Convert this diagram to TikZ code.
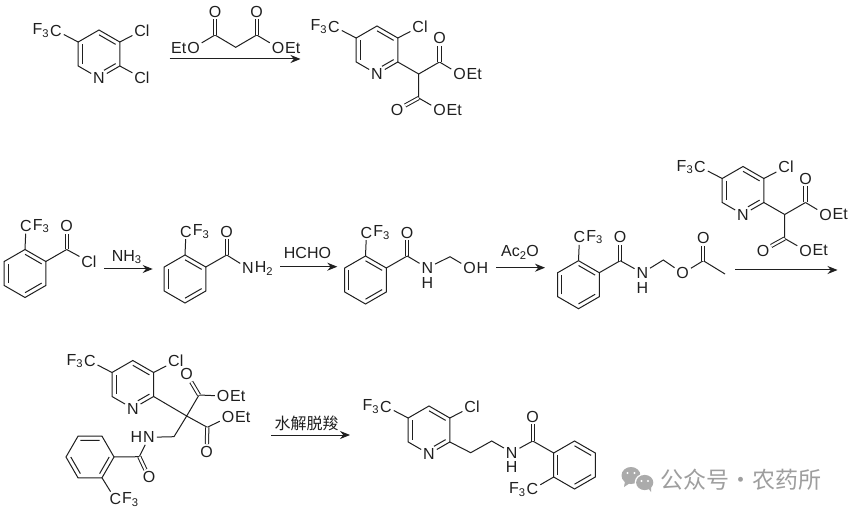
\documentclass[tikz,border=0pt]{standalone}
\usepackage{fontspec}
\setmainfont{Liberation Sans}
\newfontfamily\cjk{Noto Sans CJK SC}
\usetikzlibrary{arrows.meta,calc}
\tikzset{
atom/.style={inner sep=1.5pt,font=\fontsize{16}{18}\selectfont},
subr/.style={atom,anchor=west,xshift=-3pt},
subl/.style={atom,anchor=east,xshift=3pt},
dbl/.style={double,double distance=2.2pt},
rxn/.style={-{Stealth[length=10pt,width=8pt]}},
benzring/.pic={
\coordinate (-c) at (0,0);
\coordinate (-t) at (0,-24);
\coordinate (-ur) at (20.8,-12);
\coordinate (-lr) at (20.8,12);
\coordinate (-b) at (0,24);
\coordinate (-ll) at (-20.8,12);
\coordinate (-ul) at (-20.8,-12);
\draw (-t) -- (-ur) -- (-lr) -- (-b) -- (-ll) -- (-ul) -- cycle;
\draw ($(-c)!.8!(-t)$) -- ($(-c)!.8!(-ur)$);
\draw ($(-c)!.8!(-lr)$) -- ($(-c)!.8!(-b)$);
\draw ($(-c)!.8!(-ll)$) -- ($(-c)!.8!(-ul)$);
},
arylco/.pic={
\pic (-r) at (0,0) {benzring};
\coordinate (-co) at (41.7,-24);
\node[atom] (-o) at (41.7,-47.5) {O};
\node[atom] (-cc) at (1,-47.5) {C};
\node[subr] (-f) at (-cc.east) {F\textsubscript{3}};
\draw (-r-t) -- (-cc);
\draw (-r-ur) -- (-co);
\draw[dbl] (-co) -- (-o);
},
pyridine/.pic={
\coordinate (-c) at (0,0);
\coordinate (-c5) at (-20.8,-12);
\coordinate (-c4) at (0,-24);
\coordinate (-c3) at (20.8,-12);
\coordinate (-c2) at (20.8,12);
\coordinate (-c6) at (-20.8,12);
\coordinate (-q) at (6.2,20.4);
\node[atom] (-n) at (0,24) {N};
\node[atom] (-cc) at (-43,-23.5) {C};
\node[subl] (-f) at (-cc.west) {F\textsubscript{3}};
\node[atom] (-cl) at (43,-23.5) {Cl};
\draw (-c5) -- (-c4) -- (-c3) -- (-c2) -- (-n) -- (-c6) -- (-c5);
\draw (-c5) -- (-cc);
\draw (-c3) -- (-cl);
\draw ($(-c)!.8!(-c4)$) -- ($(-c)!.8!(-c3)$);
\draw ($(-c)!.8!(-c2)$) -- ($(-c)!.8!(-q)$);
\draw ($(-c)!.8!(-c5)$) -- ($(-c)!.8!(-c6)$);
},
malonyl/.pic={
\coordinate (-ch) at (41.7,24);
\coordinate (-cu) at (62.5,12);
\coordinate (-cd) at (41.7,48);
\node[atom] (-ou) at (62.5,-12) {O};
\node[atom] (-eu) at (82.5,24) {O};
\node[subr] (-tu) at (-eu.east) {Et};
\node[atom] (-od) at (20,60) {O};
\node[atom] (-ed) at (62.5,60) {O};
\node[subr] (-td) at (-ed.east) {Et};
\draw (-c2) -- (-ch);
\draw (-ch) -- (-cu);
\draw (-cu) -- (-eu);
\draw (-ch) -- (-cd) -- (-ed);
\draw[dbl] (-cu) -- (-ou);
\draw[dbl] (-cd) -- (-od);
}
}
\begin{document}
\begin{tikzpicture}[x=1pt,y=-1pt,line width=1pt,color=black!88]
\fill[white] (0,0) rectangle (852,513);
\pic (pa) at (99,54) {pyridine};
\node[atom] (clb) at (142,78) {Cl};
\draw (pa-c2) -- (clb);
\coordinate (ca) at (215,35);
\coordinate (cm) at (235.7,47.3);
\coordinate (cb) at (256.7,35);
\node[atom] (oa) at (215,11.7) {O};
\node[atom] (ob) at (256.7,11.7) {O};
\node[atom] (ec) at (193.5,47.7) {O};
\node[subl] (tc) at (ec.west) {Et};
\node[atom] (ed) at (278,47.7) {O};
\node[subr] (td) at (ed.east) {Et};
\draw (ec) -- (ca) -- (cm) -- (cb) -- (ed);
\draw[dbl] (ca) -- (oa);
\draw[dbl] (cb) -- (ob);
\coordinate (ara) at (169.5,59);
\coordinate (arb) at (300.5,59);
\draw[rxn] (ara) -- (arb);
\pic (pb) at (377,50) {pyridine};
\pic (pb) at (377,50) {malonyl};
\pic (xa) at (25,273.5) {arylco};
\node[atom] (cla) at (89,261.7) {Cl};
\draw (xa-co) -- (cla);
\coordinate (arc) at (104,269);
\coordinate (ard) at (152.7,269);
\draw[rxn] (arc) -- (ard);
\node[atom] (nha) at (126.7,257) {NH\textsubscript{3}};
\pic (xb) at (185,279) {arylco};
\node[atom] (nb) at (248,268.3) {N};
\node[subr] (hb) at (nb.east) {H\textsubscript{2}};
\draw (xb-co) -- (nb);
\coordinate (are) at (280,266.7);
\coordinate (arf) at (337.3,266.7);
\draw[rxn] (are) -- (arf);
\node[atom] (hcho) at (307.5,253.3) {HCHO};
\pic (xc) at (365.5,280) {arylco};
\node[atom] (nc) at (427.3,268) {N};
\node[atom] (hc) at (427.3,282.7) {H};
\coordinate (mc) at (450,256.7);
\node[atom] (oc) at (469.5,268.3) {O};
\node[subr] (ohc) at (oc.east) {H};
\draw (xc-co) -- (nc) -- (mc) -- (oc);
\coordinate (arg) at (496,267.7);
\coordinate (arh) at (545,267.7);
\draw[rxn] (arg) -- (arh);
\node[atom] (aco) at (520,252.7) {Ac\textsubscript{2}O};
\pic (xd) at (578.5,284.7) {arylco};
\node[atom] (nd) at (642.3,273) {N};
\node[atom] (hd) at (642.3,287.7) {H};
\coordinate (md) at (663.3,260);
\node[atom] (oe) at (682.7,273.3) {O};
\coordinate (cd) at (703.3,260.7);
\node[atom] (of) at (703.3,238.3) {O};
\coordinate (me) at (725,274);
\draw (xd-co) -- (nd) -- (md) -- (oe) -- (cd) -- (me);
\draw[dbl] (cd) -- (of);
\pic (pc) at (743,190.5) {pyridine};
\pic (pc) at (743,190.5) {malonyl};
\coordinate (ari) at (735,270);
\coordinate (arj) at (837.5,270);
\draw[rxn] (ari) -- (arj);
\pic (pd) at (132.8,384.5) {pyridine};
\coordinate (qd) at (186.7,416);
\coordinate (ce) at (199,395);
\coordinate (cf) at (207.3,427.3);
\coordinate (mf) at (174,436.7);
\coordinate (cg) at (139.3,456.7);
\node[atom] (og) at (186.7,374.3) {O};
\node[atom] (eg) at (223,396) {O};
\node[subr] (tg) at (eg.east) {Et};
\node[atom] (eh) at (228,417.3) {O};
\node[subr] (th) at (eh.east) {Et};
\node[atom] (oh) at (206.7,451.7) {O};
\node[atom] (nf) at (149,437.3) {N};
\node[subl] (hf) at (nf.west) {H};
\node[atom] (oi) at (149,477.3) {O};
\pic[rotate=30] (rf) at (90,457) {benzring};
\node[atom] (cfa) at (115.3,499.3) {C};
\node[subr] (ffa) at (cfa.east) {F\textsubscript{3}};
\draw (pd-c2) -- (qd) -- (ce) -- (eg);
\draw (qd) -- (cf) -- (eh);
\draw (qd) -- (mf) -- (nf) -- (cg) -- (rf-lr);
\draw (rf-b) -- (cfa);
\draw[dbl] (ce) -- (og);
\draw[dbl] (cf) -- (oh);
\draw[dbl] (cg) -- (oi);
\coordinate (ark) at (271,435);
\coordinate (arl) at (350,435);
\draw[rxn] (ark) -- (arl);
\node[atom,font=\cjk\fontsize{16}{18}\selectfont] (hyd) at (306.5,423.3) {水解脱羧};
\pic (pe) at (429,430) {pyridine};
\coordinate (mg) at (470.7,452.7);
\coordinate (mh) at (491.7,441);
\node[atom] (ng) at (511.7,452.5) {N};
\node[atom] (hg) at (511.7,467.2) {H};
\coordinate (ch) at (532.7,441);
\node[atom] (oj) at (532.7,416.7) {O};
\pic (rg) at (574.5,465) {benzring};
\node[atom] (cga) at (532.5,489.3) {C};
\node[subl] (ffb) at (cga.west) {F\textsubscript{3}};
\draw (pe-c2) -- (mg) -- (mh) -- (ng) -- (ch) -- (rg-ul);
\draw (rg-ll) -- (cga);
\draw[dbl] (ch) -- (oj);
\fill[black!33] (631,475.5) ellipse (9.5 and 8.5);
\fill[black!33] (625,481) -- (624,487) -- (630,483) -- cycle;
\fill[white] (644.7,482.5) ellipse (10 and 9);
\fill[black!33] (644.7,482.5) ellipse (8.6 and 7.6);
\fill[black!33] (648,488) -- (651,492) -- (651,486) -- cycle;
\fill[white] (627.5,473) circle (1.2) (634.5,473) circle (1.2) (641.5,481) circle (1.1) (648,481) circle (1.1);
\node[atom,anchor=west,inner sep=0pt,text=black!38,font=\cjk\fontsize{23}{25}\selectfont] (wm) at (659.5,479.3) {公众号·农药所};
\end{tikzpicture}
\end{document}
